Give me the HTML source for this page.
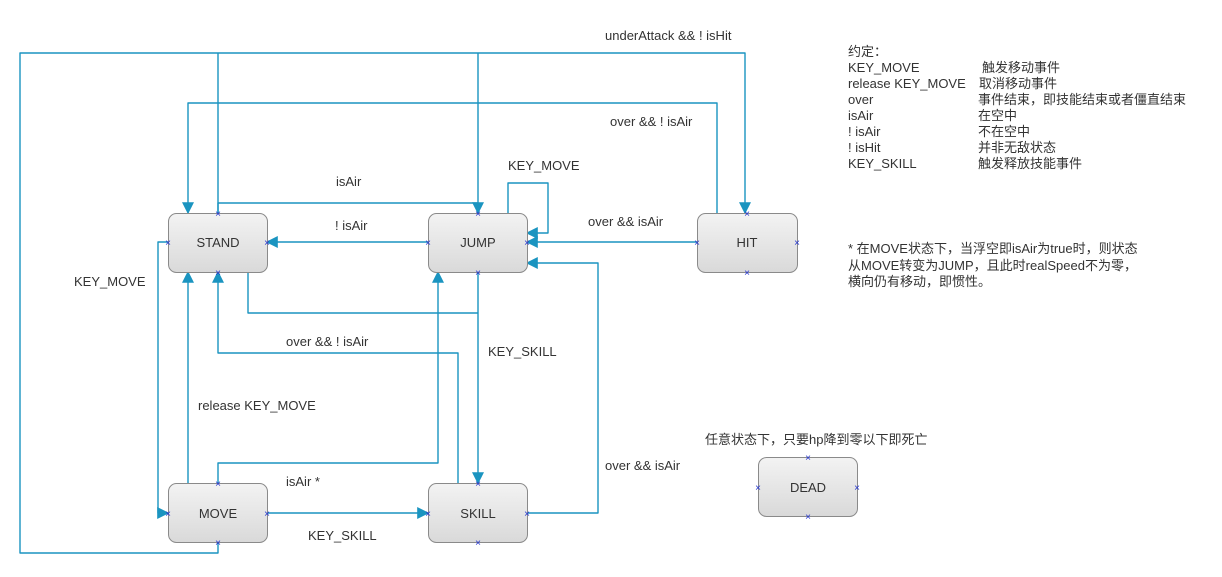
<!DOCTYPE html>
<html><head><meta charset="utf-8"><style>
html,body{margin:0;padding:0;background:#fff;}
svg{display:block;}
text{font-family:"Liberation Sans","Noto Sans CJK SC",sans-serif;fill:#333;font-size:13px;}
.l{fill:none;stroke:#1a94c0;stroke-width:1.4;stroke-linejoin:round;}
.m{fill:#2233cc;font-size:10px;}
</style></head><body>
<svg width="1222" height="577" viewBox="0 0 1222 577" xmlns="http://www.w3.org/2000/svg">
<defs>
<linearGradient id="g" x1="0" y1="0" x2="0" y2="1"><stop offset="0" stop-color="#f3f3f3"/><stop offset="1" stop-color="#d9d9d9"/></linearGradient>
<marker id="a" viewBox="0 0 10 10" refX="9" refY="5" markerWidth="12" markerHeight="14" orient="auto" markerUnits="userSpaceOnUse"><path d="M0,0 L10,5 L0,10 z" fill="#1a94c0"/></marker>
</defs>
<path class="l" d="M218,542 V553 H20 V53 H745 V213" marker-end="url(#a)"/>
<path class="l" d="M218,213 V53"/>
<path class="l" d="M478,213 V53"/>
<path class="l" d="M717,213 V103 H188 V213" marker-end="url(#a)"/>
<path class="l" d="M218,213 V203 H478 V213" marker-end="url(#a)"/>
<path class="l" d="M508,213 V183 H548 V233 H527" marker-end="url(#a)"/>
<path class="l" d="M428,242 H267" marker-end="url(#a)"/>
<path class="l" d="M697,242 H527" marker-end="url(#a)"/>
<path class="l" d="M527,513 H598 V263 H527" marker-end="url(#a)"/>
<path class="l" d="M248,272 V313 H478"/>
<path class="l" d="M478,272 V483" marker-end="url(#a)"/>
<path class="l" d="M458,483 V353 H218 V272" marker-end="url(#a)"/>
<path class="l" d="M218,483 V463 H438 V272" marker-end="url(#a)"/>
<path class="l" d="M188,483 V272" marker-end="url(#a)"/>
<path class="l" d="M168,242 H158 V513 H168" marker-end="url(#a)"/>
<path class="l" d="M267,513 H428" marker-end="url(#a)"/>
<g stroke="#8a8a8a" fill="url(#g)">
<rect x="168.5" y="213.5" width="99" height="59" rx="8"/>
<rect x="428.5" y="213.5" width="99" height="59" rx="8"/>
<rect x="697.5" y="213.5" width="100" height="59" rx="8"/>
<rect x="168.5" y="483.5" width="99" height="59" rx="8"/>
<rect x="428.5" y="483.5" width="99" height="59" rx="8"/>
<rect x="758.5" y="457.5" width="99" height="59" rx="8"/>
</g>
<g text-anchor="middle">
<text x="218" y="247">STAND</text>
<text x="478" y="247">JUMP</text>
<text x="747" y="247">HIT</text>
<text x="218" y="518">MOVE</text>
<text x="478" y="518">SKILL</text>
<text x="808" y="492">DEAD</text>
</g>
<g text-anchor="middle">
<text class="m" x="218" y="217">×</text>
<text class="m" x="218" y="276">×</text>
<text class="m" x="168" y="246">×</text>
<text class="m" x="267" y="246">×</text>
<text class="m" x="478" y="217">×</text>
<text class="m" x="478" y="276">×</text>
<text class="m" x="428" y="246">×</text>
<text class="m" x="527" y="246">×</text>
<text class="m" x="747" y="217">×</text>
<text class="m" x="747" y="276">×</text>
<text class="m" x="697" y="246">×</text>
<text class="m" x="797" y="246">×</text>
<text class="m" x="218" y="487">×</text>
<text class="m" x="218" y="546">×</text>
<text class="m" x="168" y="517">×</text>
<text class="m" x="267" y="517">×</text>
<text class="m" x="478" y="487">×</text>
<text class="m" x="478" y="546">×</text>
<text class="m" x="428" y="517">×</text>
<text class="m" x="527" y="517">×</text>
<text class="m" x="808" y="461">×</text>
<text class="m" x="808" y="520">×</text>
<text class="m" x="758" y="491">×</text>
<text class="m" x="857" y="491">×</text>
</g>
<text x="605" y="40">underAttack &amp;&amp; ! isHit</text>
<text x="610" y="126">over &amp;&amp; ! isAir</text>
<text x="336" y="186">isAir</text>
<text x="508" y="170">KEY_MOVE</text>
<text x="335" y="230">! isAir</text>
<text x="588" y="226">over &amp;&amp; isAir</text>
<text x="74" y="286">KEY_MOVE</text>
<text x="286" y="346">over &amp;&amp; ! isAir</text>
<text x="488" y="356">KEY_SKILL</text>
<text x="198" y="410">release KEY_MOVE</text>
<text x="605" y="470">over &amp;&amp; isAir</text>
<text x="286" y="486">isAir *</text>
<text x="308" y="540">KEY_SKILL</text>
<text x="705" y="444">任意状态下，只要hp降到零以下即死亡</text>
<text x="848" y="56">约定：</text>
<text x="848" y="72">KEY_MOVE</text><text x="982" y="72">触发移动事件</text>
<text x="848" y="88">release KEY_MOVE</text><text x="979" y="88">取消移动事件</text>
<text x="848" y="104">over</text><text x="978" y="104">事件结束，即技能结束或者僵直结束</text>
<text x="848" y="120">isAir</text><text x="978" y="120">在空中</text>
<text x="848" y="136">! isAir</text><text x="978" y="136">不在空中</text>
<text x="848" y="152">! isHit</text><text x="978" y="152">并非无敌状态</text>
<text x="848" y="168">KEY_SKILL</text><text x="978" y="168">触发释放技能事件</text>
<text x="848" y="253">* 在MOVE状态下，当浮空即isAir为true时，则状态</text>
<text x="848" y="270">从MOVE转变为JUMP，且此时realSpeed不为零，</text>
<text x="848" y="286">横向仍有移动，即惯性。</text>
</svg>
</body></html>
